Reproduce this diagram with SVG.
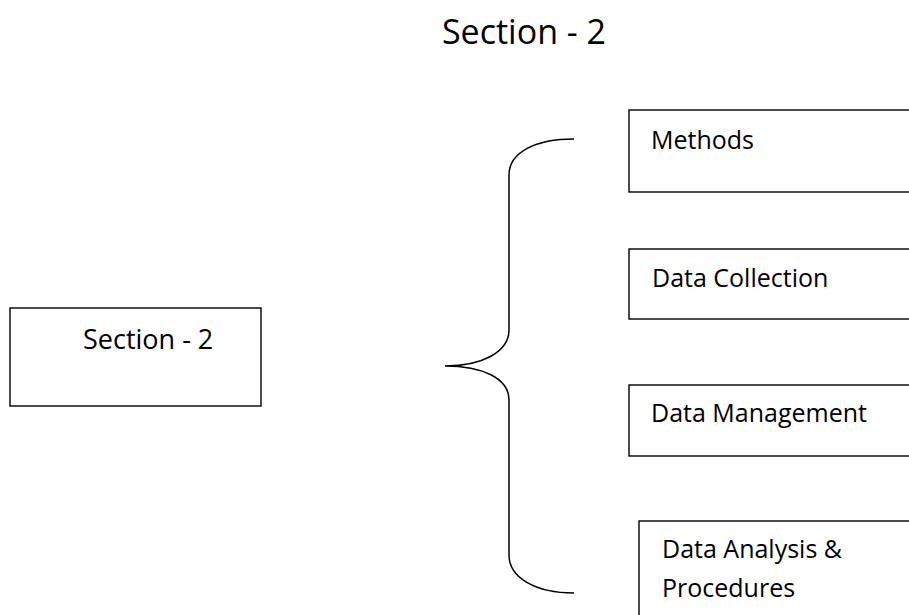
<svg xmlns="http://www.w3.org/2000/svg" width="909" height="615" viewBox="0 0 909 615">
<style>
.box{fill:#fff;stroke:#000;stroke-width:1.4}
.t{font-family:"Open Sans","Liberation Sans",sans-serif;fill:#000}
.s{font-size:25px}
.brace{fill:none;stroke:#000;stroke-width:1.5}
</style>
<rect width="909" height="615" fill="#fff"/>
<text id="title" class="t" x="524" y="44" font-size="34" text-anchor="middle">Section - 2</text>
<g id="section2">
<rect class="box" x="10" y="308" width="251" height="98"/>
<text class="t" x="83" y="349" font-size="27">Section - 2</text>
</g>
<g id="connectors">
<path class="brace" d="M574,139 C536,139 509,152 509,175 L509,330 C509,352 482,366 445,366 C482,366 509,378 509,400 L509,555 C509,578 536,593 574,593"/>
</g>
<g id="methods">
<rect class="box" x="629" y="110" width="300" height="82"/>
<text class="t s" x="651" y="149">Methods</text>
</g>
<g id="datacollection">
<rect class="box" x="629" y="249" width="300" height="70"/>
<text class="t s" x="652" y="287">Data Collection</text>
</g>
<g id="datamanagement">
<rect class="box" x="629" y="385" width="300" height="71"/>
<text class="t s" x="651" y="422">Data Management</text>
</g>
<g id="dataanalysis">
<rect class="box" x="639" y="521" width="300" height="110"/>
<text class="t s" x="662" y="558">Data Analysis &amp;</text>
<text class="t s" x="662" y="597">Procedures</text>
</g>
</svg>
